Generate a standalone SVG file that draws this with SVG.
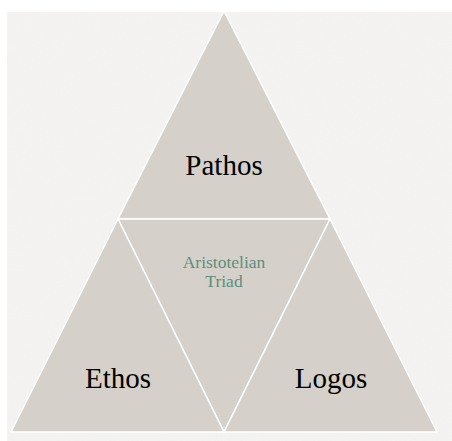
<svg xmlns="http://www.w3.org/2000/svg" width="452" height="441" viewBox="0 0 452 441">
  <defs>
    <filter id="paper" x="0" y="0" width="100%" height="100%">
      <feTurbulence type="fractalNoise" baseFrequency="0.9" numOctaves="3" seed="4" result="n"/>
      <feColorMatrix type="matrix" values="0 0 0 0 0.7  0 0 0 0 0.7  0 0 0 0 0.7  0 0 0 0.12 0" result="g"/>
      <feComposite in="g" in2="SourceGraphic" operator="in"/>
    </filter>
    <style>
      .tri { fill: #d5d1ca; stroke: #ffffff; stroke-width: 1.5; stroke-linejoin: miter; }
      .lbl { font-family: "Liberation Serif", "DejaVu Serif", serif; font-size: 29px; fill: #000000; text-anchor: middle; }
      .center { font-family: "Liberation Serif", "DejaVu Serif", serif; font-size: 17.5px; fill: #5e8d7c; text-anchor: middle; }
    </style>
  </defs>
  <rect x="0" y="0" width="452" height="441" fill="#ffffff"/>
  <rect x="7" y="12" width="445" height="429" fill="#f5f4f2"/>
  <rect x="7" y="12" width="445" height="429" fill="#ffffff" filter="url(#paper)"/>

  <g id="pathos">
    <polygon class="tri" points="224,11 118,219 330,219"/>
    <text class="lbl" x="224" y="175">Pathos</text>
  </g>
  <g id="triad">
    <polygon class="tri" points="118,219 330,219 224,432"/>
    <text class="center" x="224" y="268">Aristotelian</text>
    <text class="center" x="224" y="287">Triad</text>
  </g>
  <g id="ethos">
    <polygon class="tri" points="118,219 11,432 224,432"/>
    <text class="lbl" x="118" y="388">Ethos</text>
  </g>
  <g id="logos">
    <polygon class="tri" points="330,219 224,432 437,432"/>
    <text class="lbl" x="331" y="388">Logos</text>
  </g>
  <g id="connectors"></g>
</svg>
